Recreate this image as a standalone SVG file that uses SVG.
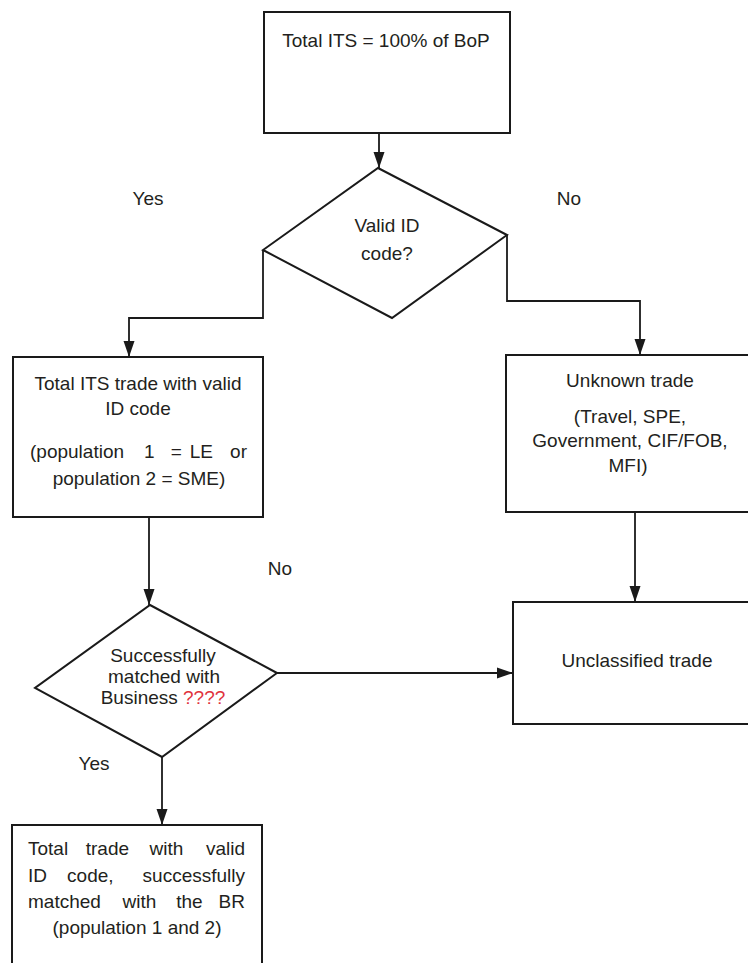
<svg xmlns="http://www.w3.org/2000/svg" width="748" height="963" viewBox="0 0 748 963">
<defs>
<marker id="arr" markerUnits="userSpaceOnUse" markerWidth="16" markerHeight="12" refX="16" refY="6" orient="auto">
<path d="M0,0.5 L16,6 L0,11.5 Z" fill="#1a1a1a"/>
</marker>
<style>
.box{fill:#fff;stroke:#1a1a1a;stroke-width:2}
.con{fill:none;stroke:#1a1a1a;stroke-width:1.8;marker-end:url(#arr)}
text{font-family:"Liberation Sans",Arial,sans-serif;font-size:19px;fill:#231f20}
.c{text-anchor:middle}
.red{fill:#e0323c}
</style>
</defs>
<rect width="748" height="963" fill="#fff"/>
<g id="connectors">
<path class="con" d="M379,133 V168"/>
<path class="con" d="M263,250 V318 H129 V357"/>
<path class="con" d="M507,235 V301 H640 V355"/>
<path class="con" d="M635,512 V602"/>
<path class="con" d="M149,517 V605"/>
<path class="con" d="M277,673 H513"/>
<path class="con" d="M162,757 V825"/>
</g>
<g id="start">
<rect class="box" x="264" y="12" width="246" height="121"/>
<text class="c" x="386" y="47">Total ITS = 100% of BoP</text>
</g>
<g id="decision1">
<polygon class="box" points="378,168 507,235 392,318 263,250"/>
<text class="c" x="387" y="232">Valid ID</text>
<text class="c" x="387" y="260">code?</text>
</g>
<g id="validtrade">
<rect class="box" x="13" y="357" width="250" height="160"/>
<text class="c" x="138" y="390">Total ITS trade with valid</text>
<text class="c" x="138" y="415">ID code</text>
<text y="458"><tspan x="30">(population </tspan><tspan x="152" class="c">1 </tspan><tspan x="179" class="c">= </tspan><tspan x="204" class="c">LE </tspan><tspan x="247" style="text-anchor:end">or</tspan></text>
<text class="c" x="139" y="485">population 2 = SME)</text>
</g>
<g id="unknown">
<rect class="box" x="506" y="355" width="250" height="157"/>
<text class="c" x="630" y="387">Unknown trade</text>
<text class="c" x="630" y="423">(Travel, SPE,</text>
<text class="c" x="630" y="447">Government, CIF/FOB,</text>
<text class="c" x="628" y="472">MFI)</text>
</g>
<g id="decision2">
<polygon class="box" points="150,605 277,673 162,757 35,688"/>
<text class="c" x="163" y="662">Successfully</text>
<text class="c" x="164" y="683">matched with</text>
<text class="c" x="163" y="704">Business <tspan class="red">????</tspan></text>
</g>
<g id="unclassified">
<rect class="box" x="513" y="602" width="250" height="122"/>
<text class="c" x="637" y="667">Unclassified trade</text>
</g>
<g id="matched">
<rect class="box" x="12" y="825" width="250" height="150"/>
<text y="855"><tspan x="28">Total </tspan><tspan x="110" class="c">trade </tspan><tspan x="169" class="c">with </tspan><tspan x="245" style="text-anchor:end">valid</tspan></text>
<text y="882"><tspan x="28">ID </tspan><tspan x="93" class="c">code, </tspan><tspan x="245" style="text-anchor:end">successfully</tspan></text>
<text y="908"><tspan x="28">matched </tspan><tspan x="142" class="c">with </tspan><tspan x="192" class="c">the </tspan><tspan x="245" style="text-anchor:end">BR</tspan></text>
<text class="c" x="137" y="934">(population 1 and 2)</text>
</g>
<g id="labels">
<text class="c" x="148" y="205">Yes</text>
<text class="c" x="569" y="205">No</text>
<text class="c" x="280" y="575">No</text>
<text class="c" x="94" y="770">Yes</text>
</g>
</svg>
